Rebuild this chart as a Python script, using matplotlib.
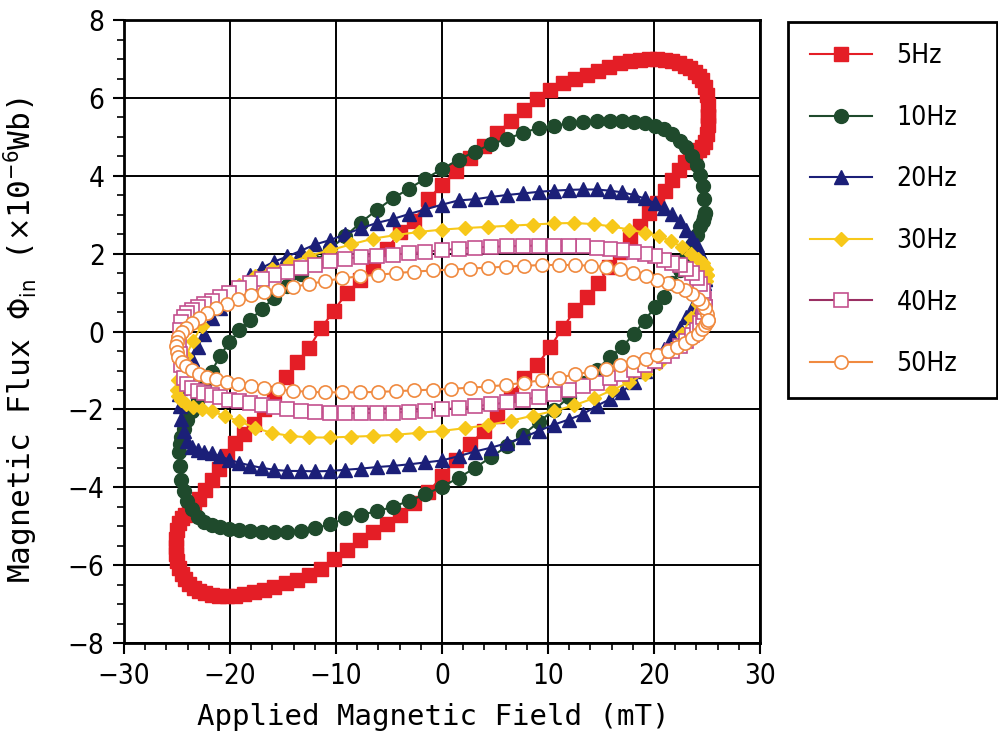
import matplotlib
matplotlib.use('Agg')
import matplotlib.pyplot as plt
from matplotlib.ticker import MultipleLocator

# applied field samples (mT), one full cycle per frequency
field_5hz = [25.1, 25.07, 24.96, 24.79, 24.55, 24.24, 23.87, 23.43, 22.93, 22.36, 21.74, 21.05, 20.31, 19.51, 18.65,
             17.75, 16.80, 15.80, 14.75, 13.67, 12.55, 11.40, 10.21, 9.00, 7.76, 6.50, 5.22, 3.93, 2.62, 1.31, 0.0,
             -1.31, -2.62, -3.93, -5.22, -6.50, -7.76, -9.00, -10.21, -11.40, -12.55, -13.67, -14.75, -15.80, -16.80,
             -17.75, -18.65, -19.51, -20.31, -21.05, -21.74, -22.36, -22.93, -23.43, -23.87, -24.24, -24.55, -24.79,
             -24.96, -25.07, -25.1,
             -25.07, -24.96, -24.79, -24.55, -24.24, -23.87, -23.43, -22.93, -22.36, -21.74, -21.05, -20.31, -19.51,
             -18.65, -17.75, -16.80, -15.80, -14.75, -13.67, -12.55, -11.40, -10.21, -9.00, -7.76, -6.50, -5.22, -3.93,
             -2.62, -1.31, 0.0,
             1.31, 2.62, 3.93, 5.22, 6.50, 7.76, 9.00, 10.21, 11.40, 12.55, 13.67, 14.75, 15.80, 16.80, 17.75, 18.65,
             19.51, 20.31, 21.05, 21.74, 22.36, 22.93, 23.43, 23.87, 24.24, 24.55, 24.79, 24.96, 25.07]

field_mid = [24.8, 24.75, 24.6, 24.36, 24.02, 23.59, 23.06, 22.44, 21.73, 20.94, 20.06, 19.11, 18.08, 16.98, 15.81,
             14.58, 13.29, 11.95, 10.56, 9.13, 7.66, 6.17, 4.65, 3.11, 1.56, 0.0,
             -1.56, -3.11, -4.65, -6.17, -7.66, -9.13, -10.56, -11.95, -13.29, -14.58, -15.81, -16.98, -18.08, -19.11,
             -20.06, -20.94, -21.73, -22.44, -23.06, -23.59, -24.02, -24.36, -24.6, -24.75, -24.8,
             -24.75, -24.6, -24.36, -24.02, -23.59, -23.06, -22.44, -21.73, -20.94, -20.06, -19.11, -18.08, -16.98,
             -15.81, -14.58, -13.29, -11.95, -10.56, -9.13, -7.66, -6.17, -4.65, -3.11, -1.56, 0.0,
             1.56, 3.11, 4.65, 6.17, 7.66, 9.13, 10.56, 11.95, 13.29, 14.58, 15.81, 16.98, 18.08, 19.11, 20.06, 20.94,
             21.73, 22.44, 23.06, 23.59, 24.02, 24.36, 24.6, 24.75]

field_30hz = [25.0, 24.9, 24.62, 24.15, 23.49, 22.66, 21.65, 20.48, 19.15, 17.68, 16.07, 14.34, 12.5, 10.57, 8.55,
              6.47, 4.34, 2.18, 0.0,
              -2.18, -4.34, -6.47, -8.55, -10.57, -12.5, -14.34, -16.07, -17.68, -19.15, -20.48, -21.65, -22.66,
              -23.49, -24.15, -24.62, -24.9, -25.0,
              -24.9, -24.62, -24.15, -23.49, -22.66, -21.65, -20.48, -19.15, -17.68, -16.07, -14.34, -12.5, -10.57,
              -8.55, -6.47, -4.34, -2.18, 0.0,
              2.18, 4.34, 6.47, 8.55, 10.57, 12.5, 14.34, 16.07, 17.68, 19.15, 20.48, 21.65, 22.66, 23.49, 24.15,
              24.62, 24.9]

field_50hz = [25.1, 25.04, 24.86, 24.55, 24.13, 23.59, 22.93, 22.16, 21.29, 20.31, 19.23, 18.06, 16.8, 15.45, 14.04,
              12.55, 11.0, 9.4, 7.76, 6.07, 4.36, 2.62, 0.88,
              -0.88, -2.62, -4.36, -6.07, -7.76, -9.4, -11.0, -12.55, -14.04, -15.45, -16.8, -18.06, -19.23, -20.31,
              -21.29, -22.16, -22.93, -23.59, -24.13, -24.55, -24.86, -25.04, -25.1,
              -25.04, -24.86, -24.55, -24.13, -23.59, -22.93, -22.16, -21.29, -20.31, -19.23, -18.06, -16.8, -15.45,
              -14.04, -12.55, -11.0, -9.4, -7.76, -6.07, -4.36, -2.62, -0.88,
              0.88, 2.62, 4.36, 6.07, 7.76, 9.4, 11.0, 12.55, 14.04, 15.45, 16.8, 18.06, 19.23, 20.31, 21.29, 22.16,
              22.93, 23.59, 24.13, 24.55, 24.86, 25.04]

# magnetic flux (x1e-6 Wb)
flux_5hz = [5.55, 5.82, 6.08, 6.28, 6.45, 6.57, 6.67, 6.76, 6.83, 6.89, 6.94, 6.97, 6.99, 7.0, 6.98, 6.95, 6.9, 6.79,
            6.7, 6.6, 6.5, 6.38, 6.2, 5.97, 5.7, 5.42, 5.1, 4.78, 4.45, 4.12, 3.77,
            3.4, 2.85, 2.55, 2.13, 1.66, 1.32, 0.98, 0.54, 0.08, -0.42, -0.79, -1.17, -1.57, -1.98, -2.38, -2.64,
            -2.87, -3.2, -3.52, -3.82, -4.07, -4.3, -4.47, -4.6, -4.7, -4.8, -4.92, -5.1, -5.32,
            -5.52, -5.7, -5.88, -6.06, -6.22, -6.36, -6.48, -6.58, -6.66, -6.72, -6.76, -6.79, -6.8, -6.79, -6.75,
            -6.7, -6.63, -6.56, -6.47, -6.38, -6.26, -6.1, -5.84, -5.6, -5.36, -5.15, -4.93, -4.7, -4.4, -4.12,
            -3.72, -3.3, -2.9, -2.55, -2.18, -1.62, -1.2, -0.85, -0.4, 0.1, 0.55, 0.88, 1.25, 1.65, 2.05, 2.38, 2.72,
            3.05, 3.3, 3.62, 3.9, 4.15, 4.35, 4.5, 4.6, 4.66, 4.75, 4.88, 5.08, 5.3]

flux_10hz = [3.05, 3.4, 3.75, 4.03, 4.28, 4.5, 4.73, 4.9, 5.08, 5.2, 5.29, 5.35, 5.38, 5.4, 5.41, 5.41, 5.39, 5.35,
             5.29, 5.23, 5.11, 4.95, 4.82, 4.62, 4.42, 4.17, 3.93, 3.67, 3.42, 3.12, 2.8, 2.45, 2.12, 1.8, 1.48,
             1.17, 0.87, 0.58, 0.3, 0.03, -0.28, -0.62, -1.03, -1.4, -1.74, -2.03, -2.28, -2.5, -2.7, -2.88,
             -3.1, -3.45, -3.8, -4.1, -4.35, -4.55, -4.75, -4.88, -4.96, -5.02, -5.06, -5.1, -5.13, -5.15, -5.16,
             -5.15, -5.11, -5.05, -4.95, -4.8, -4.7, -4.62, -4.5, -4.35, -4.18, -3.98, -3.76, -3.5, -3.22, -2.94,
             -2.65, -2.32, -2.02, -1.69, -1.33, -0.99, -0.66, -0.4, -0.07, 0.28, 0.62, 0.9, 1.25, 1.58, 1.92, 2.22,
             2.48, 2.7, 2.84, 2.95]

flux_20hz = [1.35, 1.6, 1.85, 2.02, 2.22, 2.4, 2.62, 2.85, 3.02, 3.17, 3.3, 3.42, 3.51, 3.58, 3.62, 3.65, 3.65, 3.64,
             3.62, 3.59, 3.55, 3.51, 3.46, 3.4, 3.37, 3.26, 3.14, 3.02, 2.89, 2.79, 2.65, 2.5, 2.35, 2.24, 2.08,
             1.93, 1.8, 1.64, 1.46, 1.18, 0.92, 0.6, 0.35, -0.05, -0.4, -0.7, -0.95, -1.15, -1.3, -1.45,
             -1.6, -1.9, -2.25, -2.55, -2.8, -2.97, -3.04, -3.08, -3.13, -3.2, -3.29, -3.37, -3.44, -3.5, -3.55,
             -3.58, -3.58, -3.59, -3.58, -3.55, -3.52, -3.48, -3.45, -3.41, -3.36, -3.31, -3.2, -3.08, -2.98, -2.86,
             -2.72, -2.55, -2.39, -2.26, -2.12, -1.91, -1.74, -1.55, -1.3, -1.02, -0.75, -0.45, -0.15, 0.1, 0.38,
             0.6, 0.8, 0.98, 1.12, 1.25]

flux_30hz = [1.45, 1.62, 1.75, 1.86, 2.0, 2.17, 2.32, 2.45, 2.54, 2.62, 2.7, 2.76, 2.79, 2.78, 2.75, 2.72, 2.69, 2.66,
             2.62, 2.56, 2.48, 2.39, 2.24, 2.09, 1.95, 1.78, 1.62, 1.44, 1.2, 0.92, 0.58, 0.15, -0.25, -0.62, -0.95,
             -1.25,
             -1.5, -1.65, -1.76, -1.85, -1.93, -2.0, -2.05, -2.17, -2.3, -2.47, -2.6, -2.68, -2.72, -2.72, -2.7,
             -2.68, -2.65, -2.6, -2.55, -2.48, -2.4, -2.29, -2.16, -2.04, -1.89, -1.71, -1.5, -1.3, -1.08, -0.8,
             -0.45, -0.05, 0.35, 0.72, 1.05, 1.3]

flux_40hz = [0.62, 0.85, 1.05, 1.22, 1.37, 1.5, 1.6, 1.7, 1.77, 1.85, 1.93, 1.99, 2.04, 2.09, 2.13, 2.16, 2.19, 2.2,
             2.21, 2.21, 2.2, 2.19, 2.18, 2.16, 2.13, 2.09, 2.05, 2.01, 1.98, 1.95, 1.92, 1.87, 1.81, 1.72, 1.63,
             1.54, 1.45, 1.36, 1.24, 1.12, 0.99, 0.88, 0.79, 0.7, 0.62, 0.55, 0.48, 0.38, 0.25, 0.05,
             -0.3, -0.58, -0.85, -1.18, -1.34, -1.45, -1.53, -1.59, -1.64, -1.69, -1.75, -1.79, -1.83, -1.88, -1.93,
             -1.99, -2.04, -2.07, -2.08, -2.09, -2.09, -2.09, -2.08, -2.06, -2.04, -2.0, -1.96, -1.92, -1.87, -1.82,
             -1.76, -1.67, -1.6, -1.5, -1.4, -1.32, -1.2, -1.09, -0.98, -0.87, -0.75, -0.63, -0.5, -0.38, -0.24,
             -0.1, 0.05, 0.22, 0.38, 0.5]

flux_50hz = [0.3, 0.45, 0.6, 0.73, 0.85, 0.96, 1.07, 1.16, 1.25, 1.33, 1.43, 1.51, 1.6, 1.66, 1.69, 1.71, 1.71, 1.71,
             1.69, 1.67, 1.64, 1.62, 1.59, 1.57, 1.54, 1.5, 1.46, 1.42, 1.37, 1.3, 1.22, 1.15, 1.08, 1.02, 0.93,
             0.83, 0.72, 0.6, 0.47, 0.35, 0.22, 0.1, -0.02, -0.14, -0.26,
             -0.38, -0.52, -0.66, -0.78, -0.88, -0.98, -1.08, -1.17, -1.23, -1.29, -1.35, -1.4, -1.44, -1.48, -1.52,
             -1.55, -1.56, -1.56, -1.56, -1.55, -1.53, -1.51, -1.49, -1.47, -1.44, -1.41, -1.37, -1.31, -1.25, -1.18,
             -1.1, -1.03, -0.95, -0.86, -0.78, -0.7, -0.6, -0.5, -0.4, -0.29, -0.17, -0.05, 0.06, 0.16, 0.24]

labels = ['5Hz', '10Hz', '20Hz', '30Hz', '40Hz', '50Hz']

plt.rcParams['font.family'] = 'DejaVu Sans'
plt.rcParams['font.stretch'] = 'condensed'
plt.rcParams['mathtext.fontset'] = 'dejavusans'

fig = plt.figure(figsize=(9.98, 7.46), dpi=100)
ax = fig.add_axes([0.1242, 0.138, 0.6373, 0.835])

styles = [
    dict(color='#e41e26', marker='s', ms=10.5, mfc='#e41e26', mec='#e41e26'),
    dict(color='#1f4a2c', marker='o', ms=10, mfc='#1f4a2c', mec='#1f4a2c'),
    dict(color='#1b1f78', marker='^', ms=9.5, mfc='#1b1f78', mec='#1b1f78'),
    dict(color='#f7c81a', marker='D', ms=7, mfc='#f7c81a', mec='#f7c81a'),
    dict(color='#9a2f62', marker='s', ms=9.5, mfc='white', mec='#c4508e', mew=1.2),
    dict(color='#f08a40', marker='o', ms=9.5, mfc='white', mec='#f08a40', mew=1.2),
]
fields = [field_5hz, field_mid, field_mid, field_30hz, field_mid, field_50hz]
fluxes = [flux_5hz, flux_10hz, flux_20hz, flux_30hz, flux_40hz, flux_50hz]

for lab, fx, fy, st in zip(labels, fields, fluxes, styles):
    # close each loop back onto its first sample
    ax.plot(fx + fx[:1], fy + fy[:1], lw=1.5, label=lab, **st)

ax.set_xlim(-30, 30)
ax.set_ylim(-8, 8)
ax.xaxis.set_major_locator(MultipleLocator(10))
ax.xaxis.set_minor_locator(MultipleLocator(2))
ax.yaxis.set_major_locator(MultipleLocator(2))
ax.yaxis.set_minor_locator(MultipleLocator(0.5))
ax.grid(True, which='major', color='black', lw=1.4)
ax.set_axisbelow(True)
for sp in ax.spines.values():
    sp.set_linewidth(2)
ax.tick_params(which='major', direction='out', length=8, width=1.5, labelsize=20, pad=6)
ax.tick_params(which='minor', direction='out', length=5, width=1.2)

ax.set_xlabel('Applied Magnetic Field (mT)', fontsize=21, family='DejaVu Sans Mono')
ax.xaxis.set_label_coords(0.486, -0.096)
ax.set_ylabel(r'Magnetic Flux $\Phi_{\rm in}$ ($\times$10$^{-6}$Wb)', fontsize=22.5,
              family='DejaVu Sans Mono')
ax.yaxis.set_label_coords(-0.132, 0.486)

leg = ax.legend(loc='upper left', bbox_to_anchor=(0.79, 0.464, 0.209, 0.5065), bbox_transform=fig.transFigure,
                mode='expand', fontsize=19, handlelength=2.35, handletextpad=0.95, labelspacing=1.35,
                borderpad=0.8, fancybox=False, framealpha=1, edgecolor='black', borderaxespad=0)
leg.get_frame().set_linewidth(2)

fig.savefig('out.png', dpi=100)
